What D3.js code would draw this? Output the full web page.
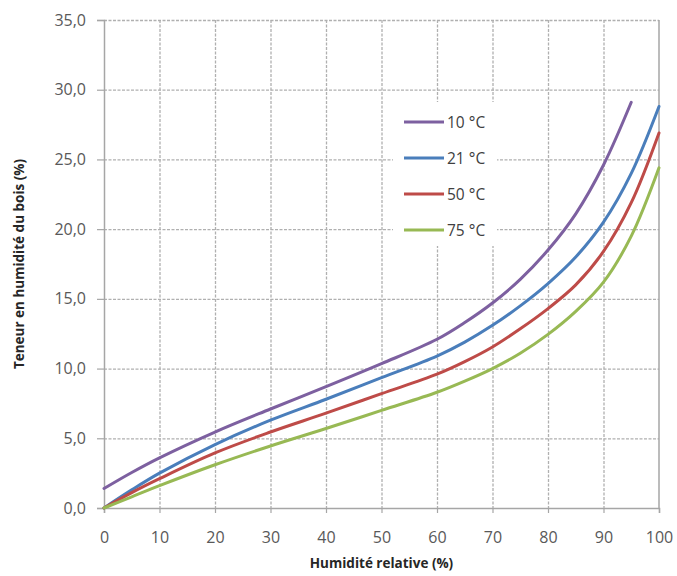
<!DOCTYPE html>
<html>
<head>
<meta charset="utf-8">
<script src="https://cdn.jsdelivr.net/npm/d3@7/dist/d3.min.js"></script>
<style>
  html, body { margin: 0; padding: 0; background: #fff; }
  svg { display: block; }
  text { font-family: "Open Sans", "Liberation Sans", sans-serif; }
</style>
</head>
<body>
<svg id="chart" width="677" height="576"></svg>
<script>
// ---- Data ----
const xValues10 = [0, 5, 10, 20, 30, 40, 50, 60, 65, 70, 75, 80, 85, 90, 95];
const y10C      = [1.4, 2.55, 3.6, 5.45, 7.1, 8.7, 10.35, 12.1, 13.3, 14.7, 16.4, 18.5, 21.1, 24.6, 29.1];
const xValues   = [0, 5, 10, 20, 30, 40, 50, 60, 65, 70, 75, 80, 85, 90, 95, 100];
const y21C      = [0, 1.3, 2.5, 4.55, 6.3, 7.8, 9.35, 10.9, 11.9, 13.1, 14.5, 16.1, 18.0, 20.5, 24.0, 28.8];
const y50C      = [0, 1.1, 2.1, 3.95, 5.45, 6.8, 8.2, 9.6, 10.5, 11.55, 12.85, 14.3, 16.0, 18.4, 21.9, 26.9];
const y75C      = [0, 0.8, 1.6, 3.1, 4.45, 5.7, 7.0, 8.3, 9.1, 10.0, 11.1, 12.45, 14.1, 16.2, 19.5, 24.4];
const seriesNames = ["10 °C", "21 °C", "50 °C", "75 °C"];
const seriesColors = ["#7d60a0", "#4a7ebb", "#be4b48", "#98b954"];
const xTicks = [0, 10, 20, 30, 40, 50, 60, 70, 80, 90, 100];
const yTicks = [0, 5, 10, 15, 20, 25, 30, 35];
const xTitle = "Humidité relative (%)";
const yTitle = "Teneur en humidité du bois (%)";

const series = [
  { name: seriesNames[0], color: seriesColors[0], pts: xValues10.map((x, i) => [x, y10C[i]]) },
  { name: seriesNames[1], color: seriesColors[1], pts: xValues.map((x, i) => [x, y21C[i]]) },
  { name: seriesNames[2], color: seriesColors[2], pts: xValues.map((x, i) => [x, y50C[i]]) },
  { name: seriesNames[3], color: seriesColors[3], pts: xValues.map((x, i) => [x, y75C[i]]) }
];

// ---- Layout ----
const svg = d3.select("#chart");
const pL = 104, pR = 659, pT = 20, pB = 508;
const x = d3.scaleLinear().domain([0, 100]).range([pL, pR]);
const y = d3.scaleLinear().domain([0, 35]).range([pB, pT]);
const gridColor = "#b0b0b0";
const axisColor = "#a6a6a6";
const labelColor = "#595959";

// gridlines
const g = svg.append("g");
g.selectAll("line.hg").data(yTicks.filter(d => d > 0)).enter().append("line")
  .attr("x1", pL).attr("x2", pR)
  .attr("y1", d => y(d) + 0.5).attr("y2", d => y(d) + 0.5)
  .attr("stroke", gridColor).attr("stroke-width", 1.3).attr("stroke-dasharray", "3,1.5");
g.selectAll("line.vg").data(xTicks.filter(d => d > 0 && d < 100)).enter().append("line")
  .attr("x1", d => x(d) + 0.5).attr("x2", d => x(d) + 0.5)
  .attr("y1", pT).attr("y2", pB)
  .attr("stroke", gridColor).attr("stroke-width", 1.3).attr("stroke-dasharray", "3,1.5");
// right border
g.append("line").attr("x1", x(100)).attr("x2", x(100)).attr("y1", pT).attr("y2", pB)
  .attr("stroke", axisColor).attr("stroke-width", 1.5);

// axes
const yAxis = d3.axisLeft(y).tickValues(yTicks).tickSize(7).tickPadding(11)
  .tickFormat(d => d3.format(".1f")(d).replace(".", ","));
const ya = svg.append("g").attr("transform", `translate(${pL},0)`).call(yAxis);
ya.select(".domain").attr("stroke", axisColor).attr("stroke-width", 1.5);
ya.selectAll(".tick line").attr("stroke", axisColor).attr("stroke-width", 1.2);
ya.selectAll(".tick text").attr("fill", labelColor).style("font-size", "16px")
  .style("font-family", "'Open Sans', sans-serif");

const xAxis = d3.axisBottom(x).tickValues(xTicks).tickSize(5).tickPadding(19)
  .tickFormat(d3.format("d"));
const xa = svg.append("g").attr("transform", `translate(0,${pB})`).call(xAxis);
xa.select(".domain").attr("stroke", axisColor).attr("stroke-width", 1.5);
xa.selectAll(".tick line").attr("stroke", axisColor).attr("stroke-width", 1.2);
xa.selectAll(".tick text").attr("fill", labelColor).style("font-size", "16px")
  .style("font-family", "'Open Sans', sans-serif");

// lines
const line = d3.line().x(d => x(d[0])).y(d => y(d[1])).curve(d3.curveCatmullRom.alpha(0.5));
svg.append("g").selectAll("path").data(series).enter().append("path")
  .attr("d", d => line(d.pts))
  .attr("fill", "none").attr("stroke", d => d.color)
  .attr("stroke-width", 3).attr("stroke-linecap", "round").attr("stroke-linejoin", "round");

// legend
const lg = svg.append("g");
lg.append("rect").attr("x", 393).attr("y", 102).attr("width", 104).attr("height", 144).attr("fill", "#fff");
const rowY = [122, 158, 194, 230];
series.forEach((s, i) => {
  lg.append("line").attr("x1", 404).attr("x2", 444).attr("y1", rowY[i]).attr("y2", rowY[i])
    .attr("stroke", s.color).attr("stroke-width", 3);
  lg.append("text").attr("x", 447).attr("y", rowY[i]).attr("dy", "0.36em")
    .attr("fill", "#404040").style("font-size", "15.5px").text(s.name);
});

// titles
svg.append("text").attr("x", (pL + pR) / 2).attr("y", 568).attr("text-anchor", "middle")
  .attr("fill", "#262626").style("font-size", "13.5px").style("font-weight", "bold").text(xTitle);
svg.append("text").attr("transform", `translate(24,${(pT + pB) / 2}) rotate(-90)`)
  .attr("text-anchor", "middle")
  .attr("fill", "#262626").style("font-size", "13.5px").style("font-weight", "bold").text(yTitle);
</script>
</body>
</html>
